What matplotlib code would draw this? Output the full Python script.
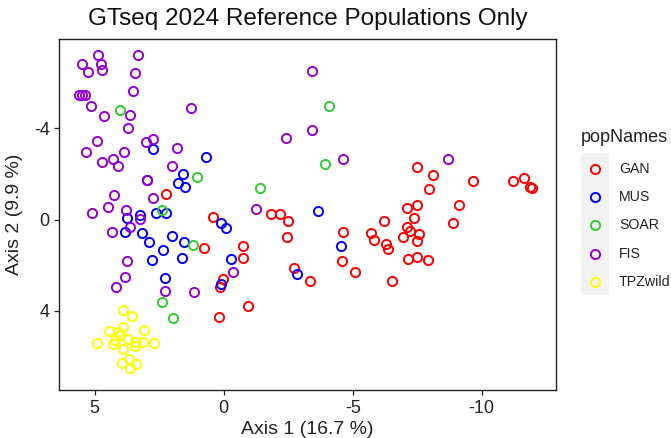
import matplotlib
matplotlib.use("Agg")
import matplotlib.pyplot as plt

plt.rcParams["font.family"] = ["Liberation Sans", "DejaVu Sans"]

# ---- data (PCoA coordinates) ----
pop_names = ["GAN", "MUS", "SOAR", "FIS", "TPZwild"]
pop_colors = ["#FF0000", "#0000FF", "#33CC33", "#9400D3", "#FFFF00"]

gan_x = [2.24, 0.40, 0.76, -0.74, -0.74, 0.02, 0.14, -0.95, 0.17, -1.82, -2.18,
         -2.48, -2.47, -2.74, -3.36, -4.64, -4.57, -5.09, -5.70, -5.81, -6.21,
         -6.29, -6.38, -6.51, -7.48, -8.12, -7.96, -9.66, -11.22, -11.64, -11.87,
         -11.94, -7.50, -7.12, -9.12, -7.38, -8.88, -7.09, -7.22, -7.58, -6.94,
         -7.50, -7.16, -7.50, -7.92]
gan_y = [-1.12, -0.10, 1.23, 1.16, 1.67, 2.62, 2.97, 3.79, 4.25, -0.25, -0.24,
         0.07, 0.75, 2.14, 2.70, 0.56, 1.80, 2.31, 0.58, 0.90, 0.07,
         1.07, 1.30, 2.69, -2.31, -1.95, -1.33, -1.67, -1.67, -1.80, -1.44,
         -1.39, -0.65, -0.49, -0.65, -0.05, 0.17, 0.32, 0.49, 0.63, 0.78,
         0.93, 1.73, 1.63, 1.77]

mus_x = [2.75, 0.70, 1.59, 1.76, 1.50, 2.98, 3.74, 3.24, 2.62, 2.24, 3.83, 3.18,
         2.88, 1.99, 1.53, 2.36, 2.79, 1.63, 0.12, -0.09, -0.27, 2.28, 0.12,
         -3.67, -4.53, -2.85]
mus_y = [-3.07, -2.72, -1.99, -1.61, -1.41, -1.73, -0.05, -0.20, -0.30, -0.30,
         0.56, 0.60, 1.00, 0.71, 1.00, 1.33, 1.77, 1.70, 0.17, 0.39, 1.73, 2.55,
         2.82, -0.39, 1.16, 2.39]

soar_x = [4.02, 1.02, -1.41, 2.40, 1.18, 2.40, 1.95, -4.07, -3.94]
soar_y = [-4.79, -1.87, -1.38, -0.42, 1.12, 3.60, 4.32, -4.97, -2.42]

fis_x = [4.88, 5.48, 4.77, 5.27, 4.73, 3.33, 3.43, 3.52, 5.61, 5.49, 5.38, 5.16,
         1.28, 4.64, 3.63, 3.72, 4.92, 5.34, 3.86, 3.02, 2.73, 1.80, 4.73, 4.30,
         4.11, 2.02, 2.98, 4.25, 2.73, 5.12, 4.50, 3.79, 3.24, 3.63, 4.34, 3.76,
         3.81, 4.19, 2.26, 1.15, -0.35, -1.27, -3.42, -3.43, -2.40, -4.62, -8.69]
fis_y = [-7.20, -6.79, -6.81, -6.47, -6.54, -7.19, -6.42, -5.64, -5.47, -5.45,
         -5.45, -4.98, -4.87, -4.53, -4.57, -4.02, -3.45, -2.94, -2.97, -3.40,
         -3.51, -3.14, -2.53, -2.66, -2.34, -2.34, -1.73, -1.07, -0.93, -0.30,
         -0.53, -0.42, -0.01, 0.34, 0.56, 1.82, 2.50, 2.97, 3.12, 3.16, 2.28,
         -0.47, -6.50, -3.90, -3.58, -2.63, -2.66]

tpz_x = [3.91, 3.57, 4.43, 4.09, 3.89, 4.02, 3.09, 4.21, 3.72, 3.44, 3.14, 2.70,
         4.90, 4.28, 3.91, 3.44, 3.66, 3.95, 3.40, 3.63]
tpz_y = [3.96, 4.22, 4.87, 4.91, 4.72, 5.05, 4.84, 5.27, 5.23, 5.35, 5.37, 5.42,
         5.39, 5.45, 5.67, 5.54, 6.12, 6.29, 6.32, 6.51]

x_ticks = [5, 0, -5, -10]
y_ticks = [-4, 0, 4]

groups = [(gan_x, gan_y), (mus_x, mus_y), (soar_x, soar_y),
          (fis_x, fis_y), (tpz_x, tpz_y)]

# ---- figure ----
W, H = 671, 438
fig = plt.figure(figsize=(W / 100, H / 100), dpi=100)
ax = fig.add_axes([59.4 / W, 1 - 390 / H, (556 - 59.4) / W, (390 - 39) / H])

for (gx, gy), col in zip(groups, pop_colors):
    ax.plot(gx, gy, linestyle="", marker="o", markersize=6.6,
            markerfacecolor="none", markeredgecolor=col, markeredgewidth=1.4)

ax.set_xlim(6.37, -12.88)
ax.set_ylim(7.46, -7.90)
ax.set_xticks(x_ticks)
ax.set_yticks(y_ticks)
ax.set_xticklabels([str(t) for t in x_ticks])
ax.set_yticklabels([str(t) for t in y_ticks])
ax.tick_params(labelsize=13, colors="#222222", length=3.5, width=0.9)
for sp in ax.spines.values():
    sp.set_color("#222222")
    sp.set_linewidth(1.0)

ax.set_xlabel("Axis 1 (16.7 %)", fontsize=14, color="#222222", labelpad=3)
ax.set_ylabel("Axis 2 (9.9 %)", fontsize=14, color="#222222", labelpad=8)
fig.text(307.7 / W, 1 - 19 / H, "GTseq 2024 Reference Populations Only",
         fontsize=17.5, ha="center", va="center", color="#111111")

# ---- legend (ggplot style: grey key column) ----
lax = fig.add_axes([580.7 / W, 1 - 295 / H, 28.3 / W, 142 / H])
lax.set_facecolor("#F2F2F2")
lax.set_xlim(0, 1)
lax.set_ylim(len(pop_names), 0)
for sp in lax.spines.values():
    sp.set_visible(False)
lax.set_xticks([])
lax.set_yticks([])
for i, (name, col) in enumerate(zip(pop_names, pop_colors)):
    lax.plot([0.5], [i + 0.55], linestyle="", marker="o", markersize=6.6,
             markerfacecolor="none", markeredgecolor=col, markeredgewidth=1.4)
    lax.text(1.35, i + 0.55, name, fontsize=10.2, va="center", ha="left",
             color="#222222", clip_on=False)
fig.text(580.7 / W, 1 - 137 / H, "popNames", fontsize=13, ha="left",
         va="center", color="#222222")

fig.savefig("out.png", dpi=100)
